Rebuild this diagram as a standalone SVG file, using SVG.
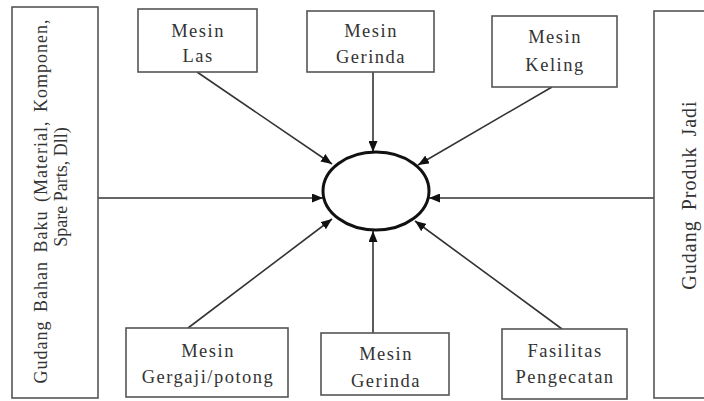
<svg xmlns="http://www.w3.org/2000/svg" width="704" height="401" viewBox="0 0 704 401">
<style>
.box{fill:#fff;stroke:#555;stroke-width:1.6}
.t{font-family:"Liberation Serif","Times New Roman",serif;font-size:18.5px;fill:#333;text-anchor:middle;letter-spacing:1.5px}
.v{font-family:"Liberation Serif","Times New Roman",serif;font-size:18px;fill:#333;text-anchor:middle}
.c{stroke:#333;stroke-width:1.6;fill:none;marker-end:url(#ah)}
</style>
<defs>
<marker id="ah" markerUnits="userSpaceOnUse" markerWidth="11" markerHeight="9" viewBox="0 0 11 9" refX="11" refY="4.5" orient="auto">
<path d="M0,0 L11,4.5 L0,9 Z" fill="#111"/>
</marker>
</defs>
<rect width="704" height="401" fill="#fff"/>
<g id="connectors">
<line class="c" x1="197" y1="72" x2="332" y2="164"/>
<line class="c" x1="373" y1="72" x2="373" y2="152"/>
<line class="c" x1="552" y1="87" x2="418" y2="165"/>
<line class="c" x1="98" y1="198" x2="323" y2="198"/>
<line class="c" x1="654" y1="198" x2="429" y2="198"/>
<line class="c" x1="188" y1="328" x2="332" y2="219"/>
<line class="c" x1="373" y1="333" x2="373" y2="231"/>
<line class="c" x1="562" y1="329" x2="415" y2="221"/>
</g>
<g id="center">
<ellipse cx="376" cy="191" rx="53" ry="39" fill="#fff" stroke="#111" stroke-width="3"/>
</g>
<g id="gudang-bahan-baku">
<rect class="box" x="12" y="7" width="86" height="391"/>
<text class="v" transform="translate(47,201) rotate(-90)" letter-spacing="1" word-spacing="3">Gudang Bahan Baku (Material, Komponen,</text>
<text class="v" transform="translate(67,187) rotate(-90)">Spare Parts, Dll)</text>
</g>
<g id="gudang-produk-jadi">
<rect class="box" x="654" y="11" width="60" height="387"/>
<text class="v" style="font-size:20px" transform="translate(696,195) rotate(-90)" letter-spacing="1" word-spacing="4">Gudang Produk Jadi</text>
</g>
<g id="mesin-las">
<rect class="box" x="138" y="9" width="119" height="63"/>
<text class="t" x="198" y="37">Mesin</text>
<text class="t" x="198" y="62">Las</text>
</g>
<g id="mesin-gerinda-atas">
<rect class="box" x="307" y="11" width="127" height="61"/>
<text class="t" x="371" y="37">Mesin</text>
<text class="t" x="371" y="63">Gerinda</text>
</g>
<g id="mesin-keling">
<rect class="box" x="492" y="16" width="125" height="71"/>
<text class="t" x="555" y="43">Mesin</text>
<text class="t" x="555" y="71">Keling</text>
</g>
<g id="mesin-gergaji">
<rect class="box" x="126" y="328" width="162" height="69"/>
<text class="t" x="208" y="357">Mesin</text>
<text class="t" x="208" y="383">Gergaji/potong</text>
</g>
<g id="mesin-gerinda-bawah">
<rect class="box" x="321" y="333" width="128" height="62"/>
<text class="t" x="386" y="360">Mesin</text>
<text class="t" x="386" y="387">Gerinda</text>
</g>
<g id="fasilitas-pengecatan">
<rect class="box" x="502" y="329" width="125" height="70"/>
<text class="t" x="565" y="357">Fasilitas</text>
<text class="t" x="565" y="383">Pengecatan</text>
</g>
</svg>
